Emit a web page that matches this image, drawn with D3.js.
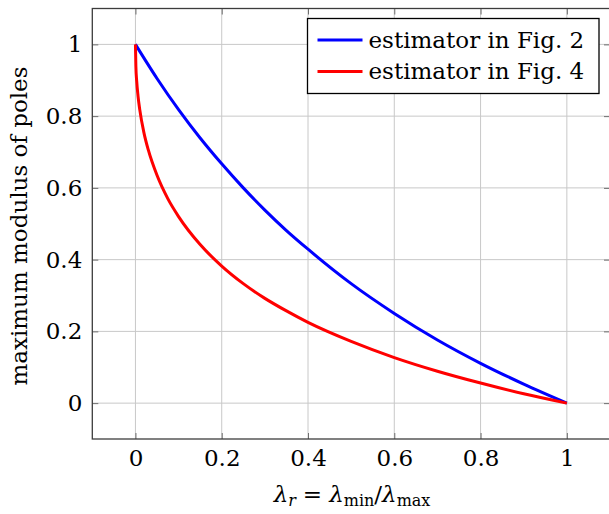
<!DOCTYPE html>
<html>
<head>
<meta charset="utf-8">
<script src="https://cdn.jsdelivr.net/npm/d3@7"></script>
<style>
  body { margin: 0; background: #fff; }
  text { font-family: "DejaVu Serif", serif; fill: #000; }
</style>
</head>
<body>
<div id="chart"></div>
<script>
// data
const xTicks = [0, 0.2, 0.4, 0.6, 0.8, 1];
const yTicks = [0, 0.2, 0.4, 0.6, 0.8, 1];

const fig2Lambda = [0, 0.05, 0.1, 0.15, 0.2, 0.25, 0.3, 0.35, 0.4, 0.5, 0.6, 0.7, 0.8, 0.9, 1];
const fig2Modulus = [1, 0.905, 0.818, 0.739, 0.667, 0.6, 0.538, 0.481, 0.429, 0.333, 0.25, 0.176, 0.111, 0.053, 0];

const fig4Lambda = [0, 0.001, 0.003, 0.006, 0.01, 0.02, 0.03, 0.05, 0.075, 0.1, 0.15, 0.2, 0.25, 0.3, 0.35, 0.4, 0.5, 0.6, 0.7, 0.8, 0.9, 1];
const fig4Modulus = [1, 0.939, 0.896, 0.856, 0.818, 0.752, 0.705, 0.635, 0.570, 0.520, 0.442, 0.382, 0.333, 0.292, 0.257, 0.225, 0.172, 0.127, 0.089, 0.056, 0.026, 0];

const seriesNames = ["estimator in Fig. 2", "estimator in Fig. 4"];
const seriesColors = ["#0000ff", "#ff0000"];

const series = [
    { name: seriesNames[0], color: seriesColors[0], pts: fig2Lambda.map((x, i) => [x, fig2Modulus[i]]) },
    { name: seriesNames[1], color: seriesColors[1], pts: fig4Lambda.map((x, i) => [x, fig4Modulus[i]]) }
];

const W = 609, H = 514;
const FONT = "DejaVu Serif";
const FS = 23;
const margin = { top: 8.5, right: -1, bottom: 75, left: 92.3 };
const width = W - margin.left - margin.right;
const height = H - margin.top - margin.bottom;

const svg = d3.select("#chart").append("svg")
    .attr("width", W)
    .attr("height", H);

const g = svg.append("g")
    .attr("transform", `translate(${margin.left}, ${margin.top})`);

const x = d3.scaleLinear().domain([-0.1, 1.1]).range([0, width]);
const y = d3.scaleLinear().domain([-0.1, 1.1]).range([height, 0]);

// grid
g.append("g").selectAll("line")
    .data(xTicks).join("line")
    .attr("x1", d => x(d)).attr("x2", d => x(d))
    .attr("y1", 0).attr("y2", height)
    .attr("stroke", "#c8c8c8").attr("stroke-width", 1);
g.append("g").selectAll("line")
    .data(yTicks).join("line")
    .attr("y1", d => y(d)).attr("y2", d => y(d))
    .attr("x1", 0).attr("x2", width)
    .attr("stroke", "#c8c8c8").attr("stroke-width", 1);

// axes with inward ticks
const tickLen = 6;
const xAxisB = g.append("g").attr("transform", `translate(0, ${height})`)
    .call(d3.axisBottom(x).tickValues(xTicks).tickSizeInner(-tickLen).tickSizeOuter(0).tickPadding(11).tickFormat(d3.format("")));
const xAxisT = g.append("g")
    .call(d3.axisTop(x).tickValues(xTicks).tickSizeInner(-tickLen).tickSizeOuter(0).tickFormat(""));
const yAxisL = g.append("g")
    .call(d3.axisLeft(y).tickValues(yTicks).tickSizeInner(-tickLen).tickSizeOuter(0).tickPadding(10).tickFormat(d3.format("")));
const yAxisR = g.append("g").attr("transform", `translate(${width}, 0)`)
    .call(d3.axisRight(y).tickValues(yTicks).tickSizeInner(-tickLen).tickSizeOuter(0).tickFormat(""));

[xAxisB, xAxisT, yAxisL, yAxisR].forEach(a => {
    a.attr("font-family", FONT).attr("font-size", FS);
    a.select(".domain").remove();
    a.selectAll(".tick line").attr("stroke", "#6e6e6e").attr("stroke-width", 1);
    a.selectAll("text").attr("fill", "#000");
});

// frame
g.append("rect")
    .attr("x", 0).attr("y", 0)
    .attr("width", width).attr("height", height)
    .attr("fill", "none").attr("stroke", "#3c3c3c").attr("stroke-width", 1.3);

// lines
const line = d3.line()
    .x(d => x(d[0]))
    .y(d => y(d[1]))
    .curve(d3.curveMonotoneX);

g.selectAll(".series")
    .data(series).join("path")
    .attr("class", "series")
    .attr("d", d => line(d.pts))
    .attr("fill", "none")
    .attr("stroke", d => d.color)
    .attr("stroke-width", 3);

// legend
const legend = svg.append("g").attr("transform", "translate(307.5, 18.5)");
legend.append("rect")
    .attr("width", 291.5).attr("height", 75)
    .attr("fill", "#fff").attr("stroke", "#000").attr("stroke-width", 1.3);
series.forEach((s, i) => {
    const yy = 21.5 + i * 31.5;
    legend.append("line")
        .attr("x1", 10).attr("x2", 55)
        .attr("y1", yy).attr("y2", yy)
        .attr("stroke", s.color).attr("stroke-width", 3);
    legend.append("text")
        .attr("x", 61).attr("y", yy + 7.5)
        .style("font-size", FS + "px")
        .text(s.name);
});

// axis labels
const xl = svg.append("text")
    .attr("x", 352).attr("y", 502)
    .attr("text-anchor", "middle")
    .style("font-size", FS + "px");
xl.append("tspan").style("font-style", "italic").text("λ");
xl.append("tspan").attr("dy", 4).style("font-size", "16px").style("font-style", "italic").text("r");
xl.append("tspan").attr("dy", -4).attr("dx", 7).text("=");
xl.append("tspan").attr("dx", 7).style("font-style", "italic").text("λ");
xl.append("tspan").attr("dy", 4).style("font-size", "16px").text("min");
xl.append("tspan").attr("dy", -4).text("/");
xl.append("tspan").style("font-style", "italic").text("λ");
xl.append("tspan").attr("dy", 4).style("font-size", "16px").text("max");

svg.append("text")
    .attr("transform", `translate(27, 226) rotate(-90)`)
    .attr("text-anchor", "middle")
    .style("font-size", FS + "px")
    .text("maximum modulus of poles");
</script>
</body>
</html>
